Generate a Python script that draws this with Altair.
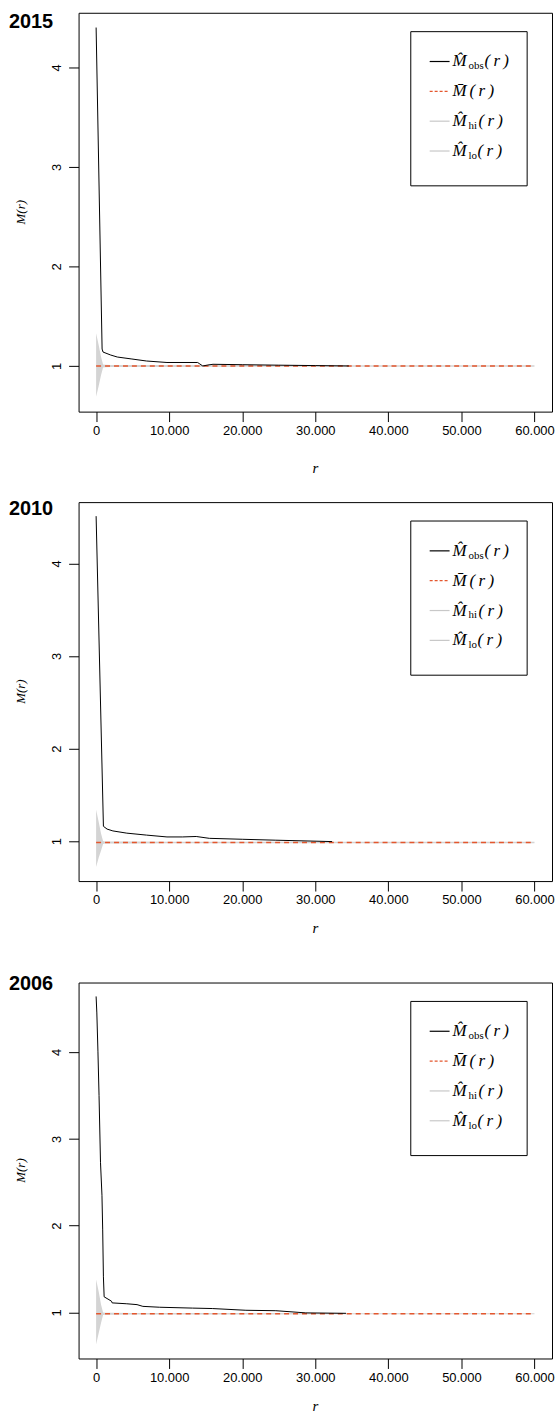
import altair as alt
import pandas as pd

# ---------------- data ----------------
years = ["2015", "2010", "2006"]

r_obs_2015 = [0, 820, 950, 2000, 2900, 4900, 6900, 9700, 13900, 14200, 14600, 15300, 16000, 20000, 25000, 30000, 34600]
m_obs_2015 = [4.40, 1.17, 1.14, 1.11, 1.09, 1.07, 1.05, 1.035, 1.035, 1.02, 1.00, 1.01, 1.017, 1.013, 1.008, 1.004, 1.0]

r_obs_2010 = [0, 1000, 1500, 2300, 4200, 6900, 9700, 11800, 13700, 15500, 20000, 24600, 32300]
m_obs_2010 = [4.51, 1.16, 1.13, 1.11, 1.086, 1.065, 1.045, 1.045, 1.05, 1.03, 1.02, 1.01, 0.995]

r_obs_2006 = [0, 100, 250, 400, 600, 800, 900, 1000, 1100, 2100, 2200, 4200, 5600, 6400, 8700, 13200, 15900, 20500, 24600, 28700, 34200]
m_obs_2006 = [4.64, 4.45, 4.01, 3.50, 2.73, 2.35, 1.96, 1.41, 1.18, 1.13, 1.11, 1.10, 1.09, 1.07, 1.06, 1.05, 1.045, 1.025, 1.02, 0.995, 0.99]

r_env = [0, 350, 680, 950, 1200, 2000, 5000, 10000, 20000, 35000, 60000]
hi_2015 = [1.33, 1.21, 1.09, 1.015, 1.012, 1.011, 1.010, 1.009, 1.008, 1.007, 1.007]
lo_2015 = [0.69, 0.80, 0.91, 0.985, 0.988, 0.989, 0.990, 0.991, 0.992, 0.993, 0.993]
hi_2010 = [1.34, 1.21, 1.08, 1.00, 0.997, 0.996, 0.995, 0.994, 0.993, 0.992, 0.992]
lo_2010 = [0.72, 0.82, 0.90, 0.97, 0.973, 0.974, 0.975, 0.976, 0.977, 0.978, 0.978]
hi_2006 = [1.38, 1.24, 1.09, 1.00, 0.997, 0.996, 0.995, 0.994, 0.993, 0.992, 0.992]
lo_2006 = [0.63, 0.76, 0.88, 0.97, 0.973, 0.974, 0.975, 0.976, 0.977, 0.978, 0.978]

r_mean = [0, 60000]
mean_2015 = 1.0
mean_2010 = 0.985
mean_2006 = 0.985

x_ticks = [0, 10000, 20000, 30000, 40000, 50000, 60000]
y_ticks = [1, 2, 3, 4]
legend_heads = ["M\u0302", "M\u0304", "M\u0302", "M\u0302"]
legend_subs = ["obs", "", "hi", "lo"]

# ---------------- styling ----------------
W = 476
SANS = "Liberation Sans"
SERIF = "Liberation Serif"
ORANGE = "#e4572e"
GRAY = "#c8c8c8"
ENV = "#d4d4d4"


def one():
    return alt.Data(values=[{"k": 0}])


def panel(year, r_obs, m_obs, hi, lo, mean, H, top_ext, bot_ext, title_y, rtitle_y):
    ymin = min(lo)
    ymax = max(m_obs)
    pad = 0.04 * (ymax - ymin)
    xs = alt.Scale(domain=[-2400, 62400], nice=False, zero=False)
    ys = alt.Scale(domain=[ymin - pad, ymax + pad], nice=False, zero=False)
    xax = alt.Axis(values=x_ticks, labelExpr="replace(format(datum.value, ','), ',', '.')",
                   labelPadding=3, tickSize=10)
    yax = alt.Axis(values=y_ticks, labelAngle=270, labelAlign="center", labelBaseline="bottom",
                   labelPadding=5, tickSize=10)

    env_df = pd.DataFrame({"r": r_env, "hi": hi, "lo": lo})
    env = alt.Chart(env_df).mark_area(color=ENV, opacity=1).encode(
        x=alt.X("r:Q", scale=xs, axis=xax, title=None),
        y=alt.Y("lo:Q", scale=ys, axis=yax, title=None),
        y2="hi:Q",
    )
    mean_df = pd.DataFrame({"r": r_mean, "m": [mean, mean]})
    mline = alt.Chart(mean_df).mark_line(color=ORANGE, strokeDash=[5, 4], strokeWidth=1.4).encode(
        x=alt.X("r:Q", scale=xs, axis=xax, title=None),
        y=alt.Y("m:Q", scale=ys, axis=yax, title=None),
    )
    obs_df = pd.DataFrame({"r": r_obs, "m": m_obs})
    oline = alt.Chart(obs_df).mark_line(color="black", strokeWidth=1).encode(
        x=alt.X("r:Q", scale=xs, axis=xax, title=None),
        y=alt.Y("m:Q", scale=ys, axis=yax, title=None),
    )

    layers = [env, mline, oline]

    # spacer controlling the panel's bounds
    layers.append(alt.Chart(one()).mark_rule(opacity=0, color="white").encode(
        x=alt.value(-78), x2=alt.value(W + 1), y=alt.value(-top_ext), y2=alt.value(H + bot_ext)))

    # year title
    layers.append(alt.Chart(one()).mark_text(text=year, font=SANS, fontSize=20, fontWeight="bold",
                                             align="left", baseline="middle", color="black").encode(
        x=alt.value(-70), y=alt.value(title_y)))
    # axis titles
    layers.append(alt.Chart(one()).mark_text(text="r", font=SERIF, fontStyle="italic", fontSize=15,
                                             align="center", baseline="middle", color="black").encode(
        x=alt.value(W / 2), y=alt.value(rtitle_y)))
    layers.append(alt.Chart(one()).mark_text(text="M(r)", font=SERIF, fontStyle="italic", fontSize=13,
                                             angle=270, align="center", baseline="middle", color="black").encode(
        x=alt.value(-58), y=alt.value(H / 2)))

    # legend
    layers.append(alt.Chart(one()).mark_rect(fill="white", stroke="black", strokeWidth=1).encode(
        x=alt.value(334), x2=alt.value(451), y=alt.value(19), y2=alt.value(174)))
    colors = ["black", ORANGE, GRAY, GRAY]
    for i, sub in enumerate(legend_subs):
        yc = 49 + 30 * i
        rule_kw = dict(color=colors[i], strokeWidth=1.2)
        if i == 1:
            rule_kw["strokeDash"] = [3, 2]
        layers.append(alt.Chart(one()).mark_rule(**rule_kw).encode(
            x=alt.value(353), x2=alt.value(373), y=alt.value(yc)))
        layers.append(alt.Chart(one()).mark_text(text=legend_heads[i], font=SERIF, fontStyle="italic",
                                                 fontSize=17, align="left", baseline="middle",
                                                 color="black").encode(
            x=alt.value(376), y=alt.value(yc)))
        if sub:
            layers.append(alt.Chart(one()).mark_text(text=sub, font=SERIF, fontSize=11,
                                                     align="left", baseline="middle", color="black").encode(
                x=alt.value(392), y=alt.value(yc + 5)))
            paren_x = {"obs": 408, "hi": 402, "lo": 401}[sub]
        else:
            paren_x = 393
        layers.append(alt.Chart(one()).mark_text(text="(\u2009r\u2009)", font=SERIF, fontStyle="italic",
                                                 fontSize=17, align="left", baseline="middle",
                                                 color="black").encode(
            x=alt.value(paren_x), y=alt.value(yc)))

    return alt.layer(*layers).properties(width=W, height=H)


p1 = panel("2015", r_obs_2015, m_obs_2015, hi_2015, lo_2015, mean_2015, 401, 8, 69, 9, 458)
p2 = panel("2010", r_obs_2010, m_obs_2010, hi_2010, lo_2010, mean_2010, 381, 20, 80, 7, 428)
p3 = panel("2006", r_obs_2006, m_obs_2006, hi_2006, lo_2006, mean_2006, 378, 20, 57, 2, 426)

chart = alt.vconcat(p1, p2, p3, spacing=0).properties(
    padding={"left": 0, "top": 0, "right": 0, "bottom": 0},
    background="white",
).configure_view(stroke="black", strokeWidth=1).configure_axis(
    domain=False, grid=False, ticks=True, tickColor="black", tickWidth=1,
    labelColor="black", labelFont=SANS, labelFontSize=13,
)

chart.save("out.html", embed_options={"renderer": "svg", "actions": False})
